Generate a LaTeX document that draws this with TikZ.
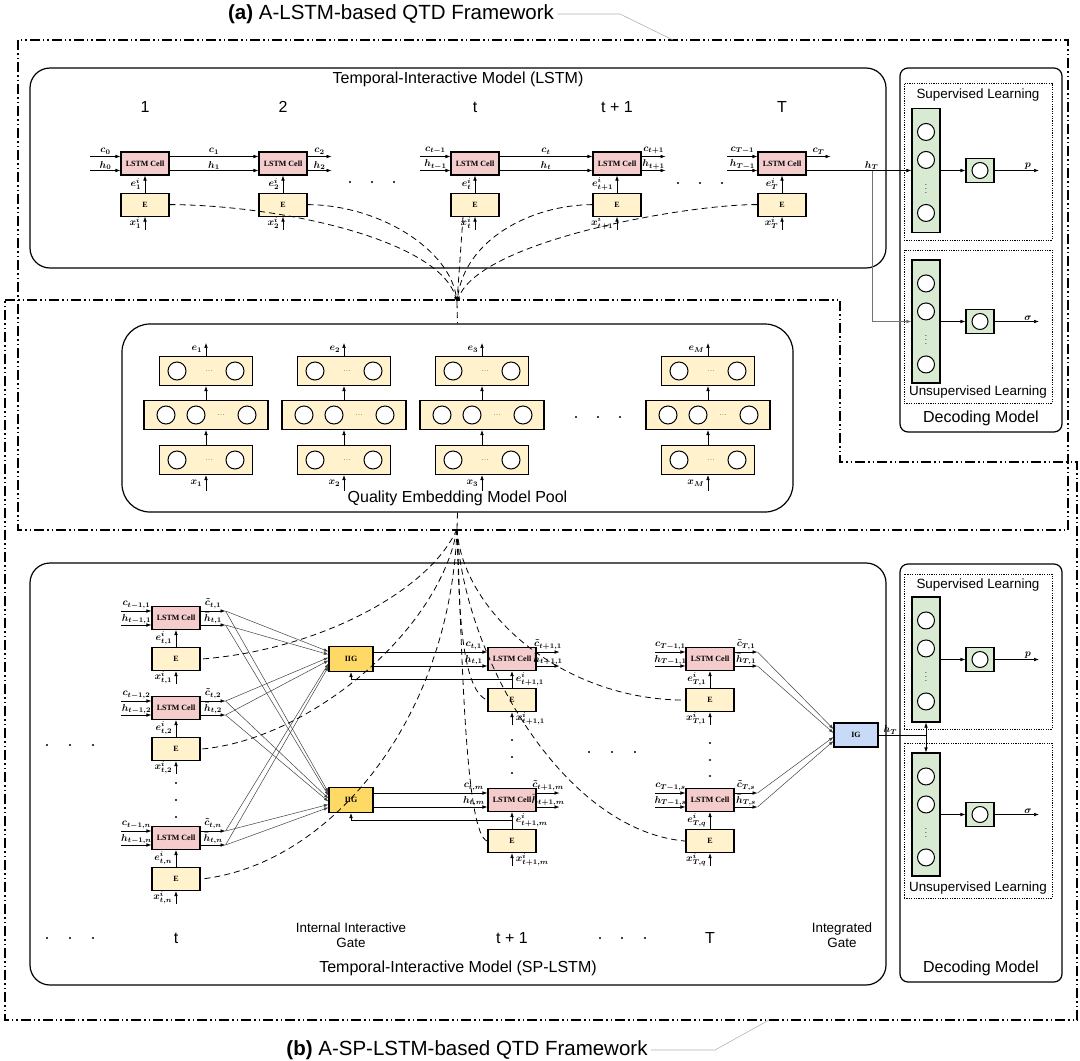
\documentclass[tikz,border=0pt]{standalone}
\usepackage{fontspec}
\setmainfont{Liberation Sans}
\newfontfamily\tnrfont{Liberation Serif}
\usepackage{amsmath}
\usetikzlibrary{arrows.meta,positioning}

\definecolor{cellpink}{RGB}{244,204,204}
\definecolor{embyellow}{RGB}{255,242,204}
\definecolor{gategold}{RGB}{255,217,102}
\definecolor{gateblue}{RGB}{201,218,248}
\definecolor{densegreen}{RGB}{217,234,211}

\begin{document}
\begin{tikzpicture}[x=1pt,y=-1pt,
  arr/.style={-{Latex[length=5pt,width=3.6pt]}, line width=0.6pt},
  fan/.style={-{Latex[length=4.5pt,width=3.2pt]}, line width=0.5pt, draw=black!75},
  lstmcell/.style={draw, line width=1.1pt, fill=cellpink, minimum width=48pt, minimum height=23pt, inner sep=0pt, font=\tnrfont\bfseries\fontsize{8}{8}\selectfont},
  ebox/.style={lstmcell, fill=embyellow},
  gatebox/.style={lstmcell, minimum width=44pt, minimum height=25pt, fill=gategold},
  panel/.style={draw, line width=1.2pt},
  subpanel/.style={draw, line width=0.9pt, dash pattern=on 1.2pt off 1.2pt},
  qtdframe/.style={line width=1.6pt, dash pattern=on 10pt off 3pt on 1.5pt off 3pt on 1.5pt off 3pt},
  leader/.style={draw=gray!60, line width=0.6pt},
  layerbox/.style={draw, line width=1.1pt, fill=embyellow, minimum height=29pt, inner sep=0pt},
  neuron/.style={circle, draw, line width=1pt, fill=white, minimum size=18pt, inner sep=0pt},
  densebox/.style={draw, line width=1.1pt, fill=densegreen, minimum width=28pt, minimum height=124pt, inner sep=0pt},
  outbox/.style={draw, line width=1.1pt, fill=densegreen, minimum width=28pt, minimum height=24pt, inner sep=0pt},
  sym/.style={font=\boldmath\fontsize{10}{11}\selectfont, inner sep=0.5pt},
  symhi/.style={sym, above, yshift=1.5pt},
  gapdots/.style={font=\fontsize{8}{8}\selectfont, text=gray},
  link/.style={dash pattern=on 6pt off 4pt, line width=0.8pt},
  linkarr/.style={link, -{Latex[length=5pt,width=3.6pt]}},
  titletext/.style={font=\fontsize{16}{18}\selectfont},
  smalltext/.style={font=\fontsize{13.4}{15}\selectfont, align=center},
]
\useasboundingbox (0,0) rectangle (1080,1061);

% frames and captions
\draw[qtdframe] (18,40) rectangle (1068,530);
\draw[qtdframe] (5,300) -- (840,300) -- (840,462) -- (1077,462) -- (1077,1020) -- (5,1020) -- cycle;
\node[font=\fontsize{20.5}{22}\selectfont] (capa) at (391,14) {\textbf{(a)} A-LSTM-based QTD Framework};
\draw[leader] (capa.east) -- (620,14) -- (673,40);
\node[font=\fontsize{20.5}{22}\selectfont] (capb) at (467,1050) {\textbf{(b)} A-SP-LSTM-based QTD Framework};
\draw[leader] (capb.east) -- (715,1050) -- (769,1020);

% panels
\node[panel, rounded corners=20pt, minimum width=856pt, minimum height=200pt] (toppanel) at (458,168) {};
\node[titletext] at (458,79) {Temporal-Interactive Model (LSTM)};
\node[panel, rounded corners=28pt, minimum width=671pt, minimum height=188pt] (pool) at (457.5,418) {};
\node[titletext] at (457.5,498) {Quality Embedding Model Pool};
\node[panel, rounded corners=20pt, minimum width=856pt, minimum height=422pt] (botpanel) at (458,774) {};
\node[titletext] at (458,968) {Temporal-Interactive Model (SP-LSTM)};

% top chain (LSTM)
\node[titletext] at (145,107) {1};
\node[titletext] at (283,107) {2};
\node[titletext] at (475,107) {t};
\node[titletext] at (617,107) {t + 1};
\node[titletext] at (782,107) {T};
\node[lstmcell] (la) at (145,163.5) {LSTM Cell};
\node[lstmcell] (lb) at (283,163.5) {LSTM Cell};
\node[lstmcell] (lc) at (475,163.5) {LSTM Cell};
\node[lstmcell] (ld) at (617,163.5) {LSTM Cell};
\node[lstmcell] (le) at (782,163.5) {LSTM Cell};
\foreach \n/\k in {la/1,lb/2,lc/t,ld/t+1,le/T} {
  \node[ebox, below=17pt of \n] (\n-e) {E};
  \draw[arr] (\n-e) -- node[sym, anchor=east, xshift=-3pt]{$e^{i}_{\k}$} (\n);
  \draw[arr] ([yshift=-13pt]\n-e.south) -- node[sym, anchor=east, xshift=-3pt]{$x^{i}_{\k}$} (\n-e.south);
}
\foreach \n/\cl/\hl in {la/c_{0}/h_{0}, lc/c_{t-1}/h_{t-1}, le/c_{T-1}/h_{T-1}} {
  \draw[arr] ([shift={(-30pt,7pt)}]\n.west) -- node[symhi]{$\cl$} ([yshift=7pt]\n.west);
  \draw[arr] ([shift={(-30pt,-7pt)}]\n.west) -- node[sym, above]{$\hl$} ([yshift=-7pt]\n.west);
}
\draw[arr] ([yshift=7pt]la.east) -- node[symhi]{$c_{1}$} ([yshift=7pt]lb.west);
\draw[arr] ([yshift=-7pt]la.east) -- node[sym, above]{$h_{1}$} ([yshift=-7pt]lb.west);
\draw[arr] ([yshift=7pt]lb.east) -- node[symhi]{$c_{2}$} ++(24pt,0pt);
\draw[arr] ([yshift=-7pt]lb.east) -- node[sym, above]{$h_{2}$} ++(24pt,0pt);
\draw[arr] ([yshift=7pt]lc.east) -- node[symhi]{$c_{t}$} ([yshift=7pt]ld.west);
\draw[arr] ([yshift=-7pt]lc.east) -- node[sym, above]{$h_{t}$} ([yshift=-7pt]ld.west);
\draw[arr] ([yshift=7pt]ld.east) -- node[symhi]{$c_{t+1}$} ++(24pt,0pt);
\draw[arr] ([yshift=-7pt]ld.east) -- node[sym, above]{$h_{t+1}$} ++(24pt,0pt);
\draw[arr] ([yshift=7pt]le.east) -- node[symhi]{$c_{T}$} ++(24pt,0pt);
\foreach \x in {350,372,394} \fill (\x,182) circle (1.1pt);
\foreach \x in {678,700,722} \fill (\x,183) circle (1.1pt);

% quality embedding model pool
\foreach \col/\x in {1/206,2/344,3/482,M/708} {
  \node[layerbox, minimum width=93pt] (q\col-top) at (\x,371) {};
  \node[layerbox, minimum width=124pt] (q\col-mid) at (\x,415) {};
  \node[layerbox, minimum width=93pt] (q\col-bot) at (\x,460) {};
  \foreach \lay in {top,bot} {
    \node[neuron] at ([xshift=-29pt]q\col-\lay.center) {};
    \node[neuron] at ([xshift=29pt]q\col-\lay.center) {};
    \node[gapdots] at ([xshift=3pt]q\col-\lay.center) {\dots};
  }
  \node[neuron] at ([xshift=-40pt]q\col-mid.center) {};
  \node[neuron] at ([xshift=-10pt]q\col-mid.center) {};
  \node[neuron] at ([xshift=41pt]q\col-mid.center) {};
  \node[gapdots] at ([xshift=15pt]q\col-mid.center) {\dots};
  \draw[arr] (q\col-bot) -- (q\col-mid);
  \draw[arr] (q\col-mid) -- (q\col-top);
  \draw[arr] (q\col-top.north) -- node[sym, anchor=east, xshift=-3pt]{$e_{\col}$} ++(0pt,13pt);
  \draw[arr] ([yshift=-16pt]q\col-bot.south) -- node[sym, anchor=east, xshift=-3pt]{$x_{\col}$} (q\col-bot.south);
}
\foreach \x in {576,598,620} \fill (\x,417) circle (1.1pt);

% dashed links to and from the pool
\coordinate (topmeet) at (457,302);
\coordinate (botmeet) at (457,529);
\draw[linkarr] (la-e.east) .. controls (280,205) and (440,240) .. (topmeet);
\draw[linkarr] (lb-e.east) .. controls (380,205) and (450,250) .. (topmeet);
\draw[linkarr] ([xshift=-12pt]lc-e.south) -- (topmeet);
\draw[linkarr] (ld-e.west) .. controls (530,205) and (465,240) .. (topmeet);
\draw[linkarr] (le-e.west) .. controls (690,204) and (480,240) .. (topmeet);
\draw[link] (topmeet) -- (pool.north);
\draw[link] (pool.south) -- (botmeet);

% bottom chain (SP-LSTM)
\node[lstmcell] (sa1) at (176,618) {LSTM Cell};
\node[lstmcell] (sa2) at (176,708) {LSTM Cell};
\node[lstmcell] (san) at (176,838) {LSTM Cell};
\node[lstmcell] (sb1) at (512,659) {LSTM Cell};
\node[lstmcell] (sbm) at (512,800) {LSTM Cell};
\node[lstmcell] (sc1) at (710,659) {LSTM Cell};
\node[lstmcell] (scs) at (710,800) {LSTM Cell};
\foreach \n/\k/\a/\dx in {sa1/{t,1}/east/-3, sa2/{t,2}/east/-3, san/{t,n}/east/-3, sb1/{t+1,1}/west/3, sbm/{t+1,m}/west/3, sc1/{T,1}/east/-3, scs/{T,q}/east/-3} {
  \node[ebox, below=17pt of \n] (\n-e) {E};
  \draw[arr] (\n-e) -- coordinate[pos=0.5] (\n-mid) node[sym, anchor=\a, xshift=\dx pt]{$e^{i}_{\k}$} (\n);
  \draw[arr] ([yshift=-13pt]\n-e.south) -- node[sym, anchor=\a, xshift=\dx pt]{$x^{i}_{\k}$} (\n-e.south);
}
\foreach \n/\cl/\hl in {sa1/{c_{t-1,1}}/{h_{t-1,1}}, sa2/{c_{t-1,2}}/{h_{t-1,2}}, san/{c_{t-1,n}}/{h_{t-1,n}}, sc1/{c_{T-1,1}}/{h_{T-1,1}}, scs/{c_{T-1,s}}/{h_{T-1,s}}} {
  \draw[arr] ([shift={(-30pt,7pt)}]\n.west) -- node[symhi]{$\cl$} ([yshift=7pt]\n.west);
  \draw[arr] ([shift={(-30pt,-7pt)}]\n.west) -- node[sym, above]{$\hl$} ([yshift=-7pt]\n.west);
}
\foreach \n/\k/\len in {sa1/{t,1}/25, sa2/{t,2}/25, san/{t,n}/25, sb1/{t+1,1}/23, sbm/{t+1,m}/23, sc1/{T,1}/23, scs/{T,s}/23} {
  \draw[arr] ([yshift=7pt]\n.east) -- node[symhi]{$\tilde{c}_{\k}$} ++(\len pt,0pt) coordinate (\n-c);
  \draw[arr] ([yshift=-7pt]\n.east) -- node[sym, above]{$\bar{h}_{\k}$} ++(\len pt,0pt) coordinate (\n-h);
}

% internal interactive gates
\node[gatebox] (iga) at (351,659) {IIG};
\node[gatebox] (igb) at (351,800) {IIG};
\foreach \s [count=\i] in {sa1-c,sa1-h,sa2-c,sa2-h,san-c,san-h} {
  \pgfmathsetmacro{\dy}{10.5-3*\i}
  \draw[fan] (\s) -- ([yshift=\dy pt]iga.west);
  \draw[fan] (\s) -- ([yshift=\dy pt]igb.west);
}
\draw[arr] ([yshift=7pt]iga.east) -- node[symhi, pos=0.88]{$c_{t,1}$} ([yshift=7pt]sb1.west);
\draw[arr] ([yshift=-7pt]iga.east) -- node[sym, above, pos=0.88]{$h_{t,1}$} ([yshift=-7pt]sb1.west);
\draw[arr] ([yshift=7pt]igb.east) -- node[symhi, pos=0.88]{$c_{t,m}$} ([yshift=7pt]sbm.west);
\draw[arr] ([yshift=-7pt]igb.east) -- node[sym, above, pos=0.88]{$h_{t,m}$} ([yshift=-7pt]sbm.west);
\draw[arr] (sb1-mid) -| (iga.south);
\draw[arr] (sbm-mid) -| (igb.south);

% integrated gate
\node[gatebox, fill=gateblue, minimum height=24pt] (ig) at (856,735) {IG};
\foreach \s/\dy in {sc1-c/6,sc1-h/2,scs-c/-2,scs-h/-6} \draw[fan] (\s) -- ([yshift=\dy pt]ig.west);

% dashed links from the pool
\draw[link] (botmeet) .. controls (430,590) and (320,650) .. (sa1-e.east);
\draw[link] (botmeet) .. controls (440,630) and (310,740) .. (sa2-e.east);
\draw[link] (botmeet) .. controls (450,720) and (330,865) .. (san-e.east);
\draw[link] (botmeet) .. controls (459,600) and (460,690) .. (sb1-e.west);
\draw[link] (botmeet) .. controls (462,650) and (465,835) .. (sbm-e.west);
\draw[link] (botmeet) .. controls (462,610) and (560,700) .. (sc1-e.west);
\draw[link] (botmeet) .. controls (462,650) and (560,830) .. (scs-e.west);

% dots and step labels
\foreach \y in {783,800,817} \fill (176,\y) circle (1.1pt);
\foreach \y in {740,757,773} \fill (512,\y) circle (1.1pt);
\foreach \y in {743,760,776} \fill (710,\y) circle (1.1pt);
\foreach \x in {589,612,635} \fill (\x,752) circle (1.1pt);
\foreach \x in {47,70,93} \fill (\x,745) circle (1.1pt);
\foreach \x in {47,70,93} \fill (\x,938) circle (1.1pt);
\foreach \x in {600,622,645} \fill (\x,938) circle (1.1pt);
\node[titletext] at (176,938) {t};
\node[titletext] at (512,938) {t + 1};
\node[titletext] at (710,938) {T};
\node[smalltext] at (351,935) {Internal Interactive\\Gate};
\node[smalltext] at (842,935) {Integrated\\Gate};

% decoding model (a)
\node[panel, rounded corners=8pt, minimum width=162pt, minimum height=364pt] (deca) at (981,250) {};
\node[titletext] at (981,418) {Decoding Model};
\node[subpanel, minimum width=148pt, minimum height=157pt] (supa) at (978,161.5) {};
\node[smalltext] at (978,95) {Supervised Learning};
\node[subpanel, minimum width=148pt, minimum height=153pt] (unsa) at (978,326.5) {};
\node[smalltext] at (978,392) {Unsupervised Learning};
\node[densebox] (dsa) at (926,170.5) {};
\node[densebox, minimum height=123pt] (dua) at (926,321.5) {};
\node[outbox] (osa) at (980,170.5) {};
\node[outbox] (oua) at (980,321.5) {};

% decoding model (b)
\node[panel, rounded corners=8pt, minimum width=162pt, minimum height=418pt] (decb) at (981,773) {};
\node[titletext] at (981,968) {Decoding Model};
\node[subpanel, minimum width=148pt, minimum height=155pt] (supb) at (978,651.5) {};
\node[smalltext] at (978,585) {Supervised Learning};
\node[subpanel, minimum width=148pt, minimum height=155pt] (unsb) at (978,820.5) {};
\node[smalltext] at (978,888) {Unsupervised Learning};
\node[densebox, minimum height=125pt] (dsb) at (926,659.5) {};
\node[densebox, minimum height=123pt] (dub) at (926,814.5) {};
\node[outbox] (osb) at (980,659.5) {};
\node[outbox] (oub) at (980,814.5) {};

\foreach \d in {dsa,dua,dsb,dub} {
  \foreach \dy in {24,52,105} \node[neuron, minimum size=17pt] at ([yshift=-\dy pt]\d.north) {};
  \node[font=\fontsize{8}{8}\selectfont] at ([yshift=-78pt]\d.north) {$\vdots$};
}
\foreach \o in {osa,oua,osb,oub} \node[neuron, minimum size=16pt] at (\o) {};
\draw[arr] (dsa) -- (osa);
\draw[arr] (osa) -- node[sym, above, pos=0.75]{$p$} ++(59pt,0pt);
\draw[arr] (dua) -- (oua);
\draw[arr] (oua) -- node[sym, above, pos=0.75]{$\sigma$} ++(59pt,0pt);
\draw[arr] (dsb) -- (osb);
\draw[arr] (osb) -- node[sym, above, pos=0.75]{$p$} ++(59pt,0pt);
\draw[arr] (dub) -- (oub);
\draw[arr] (oub) -- node[sym, above, pos=0.75]{$\sigma$} ++(59pt,0pt);

% final hidden states to the decoders
\draw[arr] ([yshift=-7pt]le.east) -- node[sym, above, pos=0.62]{$h_{T}$} (dsa.west);
\coordinate (hsplit) at (872,170.5);
\draw[arr, draw=black!55] (hsplit) |- (dua.west);
\coordinate (hjoin) at (926,735);
\draw[line width=0.6pt] (ig) -- node[sym, above, pos=0.25]{$h_{T}$} (hjoin);
\draw[arr] (hjoin) -- (dsb.south);
\draw[arr] (hjoin) -- (dub.north);
\end{tikzpicture}
\end{document}
